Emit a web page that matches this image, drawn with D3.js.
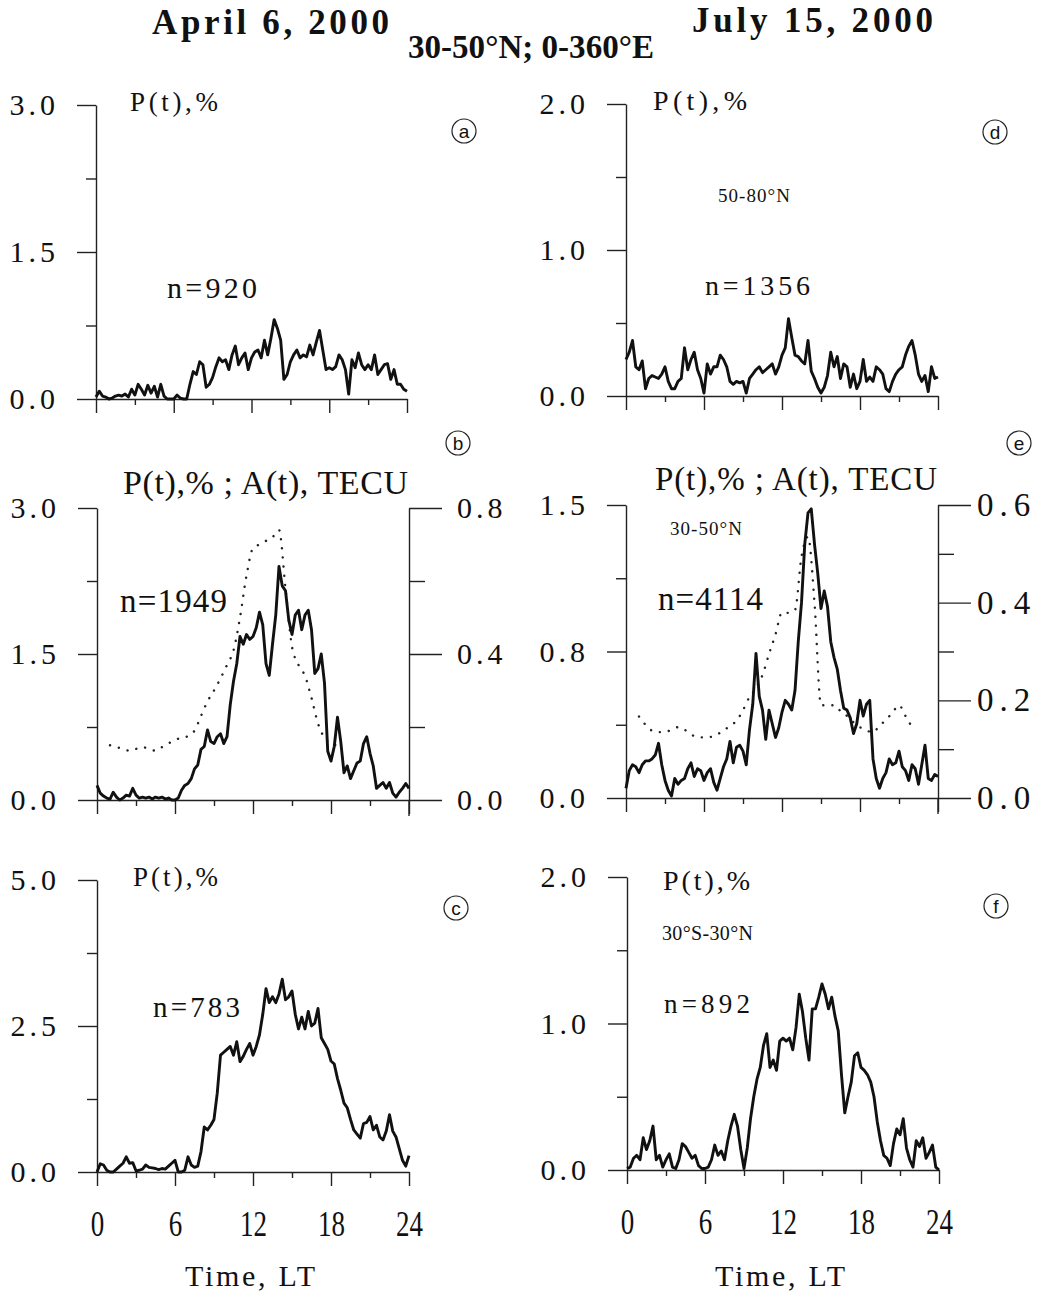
<!DOCTYPE html>
<html lang="en">
<head>
<meta charset="utf-8">
<title>P(t) and A(t), Time LT</title>
<script src="https://cdn.jsdelivr.net/npm/d3@7"></script>
<style>
  body { margin: 0; background: #fff; }
  svg text { font-family: "Liberation Serif", "Times New Roman", serif; fill: #111; }
  svg text.badge { font-family: "Liberation Sans", Arial, sans-serif; }
</style>
</head>
<body>
<div id="chart"></div>
<script>
// local time of each P(t) sample (every 15 min, 0..24 LT)
const timeLT = d3.range(0, 24.001, 0.25);

// P(t), % -- April 6, 2000
const pA = [0.02,0.08,0.03,0.02,0.00,0.01,0.03,0.04,0.03,0.05,0.02,0.10,
            0.04,0.15,0.10,0.04,0.14,0.06,0.13,0.02,0.15,0.03,0.00,0.00,
            0.00,0.04,0.01,0.00,0.00,0.15,0.28,0.25,0.38,0.35,0.12,0.15,
            0.22,0.33,0.42,0.38,0.40,0.30,0.45,0.54,0.35,0.42,0.47,0.30,
            0.42,0.48,0.50,0.42,0.60,0.45,0.62,0.81,0.72,0.60,0.20,0.25,
            0.38,0.45,0.50,0.42,0.45,0.43,0.55,0.45,0.58,0.70,0.50,0.30,
            0.32,0.30,0.33,0.45,0.40,0.30,0.05,0.40,0.32,0.47,0.35,0.30,
            0.35,0.30,0.45,0.25,0.30,0.35,0.36,0.20,0.30,0.15,0.15,0.10,0.08];
const pB = [0.15,0.07,0.04,0.02,0.01,0.08,0.03,0.00,0.02,0.05,0.04,0.12,
            0.05,0.02,0.03,0.02,0.03,0.01,0.03,0.02,0.03,0.01,0.02,0.00,
            0.00,0.02,0.10,0.15,0.17,0.22,0.32,0.36,0.52,0.55,0.72,0.60,
            0.58,0.65,0.68,0.58,0.65,0.98,1.22,1.40,1.68,1.60,1.70,1.65,
            1.68,1.77,1.93,1.80,1.40,1.28,1.60,1.90,2.40,2.20,2.15,1.85,
            1.70,1.90,1.95,1.75,1.90,1.95,1.75,1.30,1.35,1.50,1.20,0.50,
            0.40,0.55,0.85,0.60,0.28,0.35,0.22,0.30,0.38,0.40,0.58,0.65,
            0.48,0.35,0.12,0.15,0.18,0.12,0.18,0.07,0.03,0.08,0.12,0.17,0.12];
const pC = [0.00,0.14,0.12,0.03,0.00,0.00,0.05,0.10,0.15,0.26,0.15,0.16,
            0.02,0.03,0.05,0.12,0.08,0.07,0.06,0.04,0.06,0.05,0.10,0.15,
            0.20,0.00,0.00,0.03,0.26,0.12,0.08,0.10,0.35,0.77,0.72,0.80,
            0.90,1.35,2.00,2.05,2.10,2.15,2.00,2.23,1.89,1.98,2.10,2.20,
            2.00,2.15,2.35,2.70,3.14,2.90,3.00,2.90,3.05,3.30,2.95,3.00,
            3.10,2.70,2.45,2.65,2.45,2.75,2.50,2.55,2.80,2.30,2.20,2.10,
            1.90,1.85,1.60,1.40,1.18,1.10,0.90,0.72,0.65,0.58,0.83,0.85,
            0.95,0.72,0.80,0.60,0.55,0.70,0.98,0.70,0.60,0.40,0.20,0.10,0.28];

// P(t), % -- July 15, 2000
const pD = [0.25,0.30,0.38,0.20,0.18,0.24,0.05,0.12,0.14,0.13,0.12,0.15,
            0.20,0.10,0.05,0.05,0.10,0.12,0.33,0.18,0.25,0.30,0.18,0.12,
            0.02,0.22,0.15,0.20,0.20,0.28,0.25,0.20,0.10,0.08,0.10,0.09,
            0.10,0.02,0.12,0.15,0.18,0.20,0.16,0.18,0.20,0.22,0.15,0.20,
            0.28,0.33,0.53,0.40,0.28,0.27,0.24,0.22,0.38,0.17,0.12,0.06,
            0.02,0.06,0.14,0.30,0.20,0.27,0.12,0.22,0.20,0.06,0.15,0.05,
            0.10,0.25,0.10,0.13,0.10,0.20,0.18,0.15,0.05,0.03,0.10,0.15,
            0.18,0.20,0.28,0.34,0.38,0.28,0.15,0.10,0.14,0.03,0.20,0.12,0.13];
const pE = [0.05,0.14,0.17,0.16,0.13,0.17,0.19,0.19,0.20,0.22,0.28,0.17,
            0.09,0.04,0.01,0.10,0.07,0.09,0.10,0.15,0.18,0.11,0.15,0.14,
            0.09,0.13,0.15,0.08,0.04,0.10,0.16,0.20,0.29,0.18,0.26,0.27,
            0.24,0.17,0.35,0.48,0.74,0.52,0.45,0.30,0.45,0.38,0.31,0.36,
            0.44,0.50,0.48,0.45,0.55,0.80,1.00,1.30,1.46,1.48,1.30,1.15,
            0.97,1.06,0.98,0.80,0.72,0.66,0.55,0.46,0.45,0.41,0.33,0.38,
            0.50,0.42,0.48,0.50,0.20,0.10,0.05,0.10,0.13,0.20,0.17,0.18,
            0.24,0.16,0.14,0.09,0.17,0.15,0.07,0.17,0.27,0.10,0.09,0.12,0.11];
const pF = [0.01,0.02,0.08,0.10,0.07,0.22,0.14,0.20,0.30,0.07,0.10,0.02,
            0.07,0.11,0.02,0.01,0.07,0.18,0.16,0.12,0.08,0.10,0.03,0.01,
            0.01,0.02,0.07,0.17,0.10,0.13,0.07,0.20,0.30,0.38,0.30,0.14,
            0.01,0.15,0.35,0.50,0.62,0.70,0.85,0.93,0.70,0.75,0.68,0.88,
            0.90,0.88,0.90,0.82,0.97,1.20,1.08,0.90,0.75,1.10,1.10,1.18,
            1.27,1.20,1.10,1.18,1.05,0.95,0.65,0.39,0.50,0.60,0.78,0.80,
            0.70,0.68,0.65,0.60,0.50,0.33,0.20,0.10,0.08,0.03,0.18,0.28,
            0.24,0.35,0.15,0.07,0.02,0.20,0.16,0.22,0.08,0.12,0.17,0.02,0.00];

// A(t), TECU (dotted curves), sampled every 30 min
const aTimeB = d3.range(1, 19.001, 0.5);
const aB = [0.150,0.145,0.140,0.135,0.140,0.145,0.140,0.135,0.145,0.155,
            0.165,0.170,0.175,0.190,0.230,0.270,0.300,0.333,0.370,0.410,
            0.500,0.615,0.690,0.700,0.710,0.720,0.740,0.580,0.420,0.370,
            0.340,0.280,0.210,0.170,0.155,0.150,0.150];
const aTimeE = d3.range(1, 22.001, 0.5);
const aE = [0.167,0.150,0.138,0.135,0.135,0.140,0.145,0.140,0.130,0.125,
            0.124,0.125,0.130,0.138,0.148,0.158,0.180,0.207,0.225,0.252,
            0.295,0.335,0.380,0.379,0.385,0.494,0.535,0.400,0.190,0.190,
            0.190,0.178,0.168,0.155,0.145,0.138,0.135,0.148,0.160,0.175,
            0.190,0.168,0.145];

const sampleCounts = { a: 920, b: 1949, c: 783, d: 1356, e: 4114, f: 892 };
const hourMajor = [0, 6, 12, 18, 24];
const hourMinor = [3, 9, 15, 21];

const width = 1039, height = 1298;
const svg = d3.select("#chart").append("svg")
    .attr("width", width)
    .attr("height", height);

// one entry per panel: where it goes and how its axes look
const panels = [
  { key: "a", series: pA, x0: 96, x1: 407, top: 105, zero: 399, max: 3,
    yMajor: [0, 1.5, 3], yLabels: ["0.0", "1.5", "3.0"], yMinor: [0.75, 2.25],
    head: ["P(t),%", 130, 111, 27, 88], nLab: [167, 298, 30, 90], badge: [464, 131] },
  { key: "b", series: pB, x0: 97, x1: 409, top: 508, zero: 800, max: 3,
    yMajor: [0, 1.5, 3], yLabels: ["0.0", "1.5", "3.0"], yMinor: [0.75, 2.25],
    head: ["P(t),% ; A(t), TECU", 123, 494, 34, 285], nLab: [120, 612, 33, 107], badge: [458, 443],
    right: { max: 0.8, major: [0, 0.4, 0.8], labels: ["0.0", "0.4", "0.8"], minor: [0.2, 0.6],
             pad: 15, size: 30, ls: 4, t: aTimeB, v: aB } },
  { key: "c", series: pC, x0: 97, x1: 409, top: 880, zero: 1172, max: 5,
    yMajor: [0, 2.5, 5], yLabels: ["0.0", "2.5", "5.0"], yMinor: [1.25, 3.75],
    head: ["P(t),%", 133, 886, 27, 85], nLab: [153, 1017, 29, 87], badge: [456, 908], bottom: true },
  { key: "d", series: pD, x0: 626, x1: 938, top: 104, zero: 396, max: 2,
    yMajor: [0, 1, 2], yLabels: ["0.0", "1.0", "2.0"], yMinor: [0.5, 1.5],
    head: ["P(t),%", 653, 110, 28, 94], nLab: [705, 295, 28, 105], badge: [995, 132],
    region: ["50-80°N", 718, 202, 19, 72] },
  { key: "e", series: pE, x0: 626, x1: 938, top: 505, zero: 798, max: 1.5,
    yMajor: [0, 0.75, 1.5], yLabels: ["0.0", "0.8", "1.5"], yMinor: [0.375, 1.125],
    head: ["P(t),% ; A(t), TECU", 655, 490, 33, 282], nLab: [658, 610, 33, 105], badge: [1019, 443],
    region: ["30-50°N", 670, 535, 19, 72],
    right: { max: 0.6, major: [0, 0.2, 0.4, 0.6], labels: ["0.0", "0.2", "0.4", "0.6"], minor: [0.1, 0.3, 0.5],
             pad: 6, size: 33, ls: 6, t: aTimeE, v: aE } },
  { key: "f", series: pF, x0: 627, x1: 939, top: 877, zero: 1170, max: 2,
    yMajor: [0, 1, 2], yLabels: ["0.0", "1.0", "2.0"], yMinor: [0.5, 1.5],
    head: ["P(t),%", 663, 890, 28, 87], nLab: [664, 1013, 27, 86], badge: [996, 906],
    region: ["30°S-30°N", 662, 940, 20, 91], bottom: true }
];

function styleAxis(sel) {
    sel.attr("font-family", null).attr("font-size", null);
    sel.selectAll(".domain, .tick line").attr("stroke", "#222").attr("stroke-width", 1.4);
}

function spacedText(x, y, txt, size, len, anchor) {
    return svg.append("text")
        .attr("x", x).attr("y", y)
        .attr("text-anchor", anchor || "start")
        .attr("textLength", len)
        .attr("lengthAdjust", "spacing")
        .style("font-size", size + "px")
        .text(txt);
}

panels.forEach(p => {
    const x = d3.scaleLinear().domain([0, 24]).range([p.x0, p.x1]);
    const y = d3.scaleLinear().domain([0, p.max]).range([p.zero, p.top]);
    const g = svg.append("g").attr("id", "panel-" + p.key);

    // left axis
    g.append("g").attr("transform", `translate(${p.x0},0)`)
        .call(d3.axisLeft(y).tickValues(p.yMajor).tickSize(19).tickSizeOuter(0)
            .tickPadding(18).tickFormat((d, i) => p.yLabels[i]))
        .call(styleAxis)
        .selectAll("text").style("font-size", "30px").style("letter-spacing", "4px");
    g.append("g").attr("transform", `translate(${p.x0},0)`)
        .call(d3.axisLeft(y).tickValues(p.yMinor).tickSize(10).tickFormat(""))
        .call(a => a.select(".domain").remove())
        .call(styleAxis);

    // time axis
    g.append("g").attr("transform", `translate(0,${p.zero})`)
        .call(d3.axisBottom(x).tickValues(hourMajor).tickSize(14).tickSizeOuter(0)
            .tickPadding(24).tickFormat(p.bottom ? (d => d) : ""))
        .call(styleAxis)
        .selectAll("text").style("font-size", "36px").attr("transform", "scale(0.75,1)");
    g.append("g").attr("transform", `translate(0,${p.zero})`)
        .call(d3.axisBottom(x).tickValues(hourMinor).tickSize(6).tickFormat(""))
        .call(a => a.select(".domain").remove())
        .call(styleAxis);

    // right axis + dotted A(t)
    if (p.right) {
        const r = p.right;
        const yr = d3.scaleLinear().domain([0, r.max]).range([p.zero, p.top]);
        g.append("g").attr("transform", `translate(${p.x1},0)`)
            .call(d3.axisRight(yr).tickValues(r.major).tickSize(33).tickSizeOuter(0)
                .tickPadding(r.pad).tickFormat((d, i) => r.labels[i]))
            .call(styleAxis)
            .selectAll("text").style("font-size", r.size + "px").style("letter-spacing", r.ls + "px");
        g.append("g").attr("transform", `translate(${p.x1},0)`)
            .call(d3.axisRight(yr).tickValues(r.minor).tickSize(16).tickFormat(""))
            .call(a => a.select(".domain").remove())
            .call(styleAxis);
        // extend right axis a little below the time axis
        g.append("line")
            .attr("x1", p.x1).attr("x2", p.x1)
            .attr("y1", p.zero).attr("y2", p.zero + 16)
            .attr("stroke", "#222").attr("stroke-width", 1.4);

        g.append("path")
            .datum(r.t.map((t, i) => [t, r.v[i]]))
            .attr("fill", "none")
            .attr("stroke", "#222")
            .attr("stroke-width", 2.4)
            .attr("stroke-linecap", "round")
            .attr("stroke-dasharray", "0.1,9")
            .attr("d", d3.line().x(d => x(d[0])).y(d => yr(d[1])).curve(d3.curveMonotoneX));
    }

    // P(t) trace
    g.append("path")
        .datum(timeLT.map((t, i) => [t, p.series[i]]))
        .attr("fill", "none")
        .attr("stroke", "#111")
        .attr("stroke-width", 2.9)
        .attr("stroke-linejoin", "round")
        .attr("d", d3.line().x(d => x(d[0])).y(d => y(d[1])));

    // labels inside the panel
    spacedText(p.head[1], p.head[2], p.head[0], p.head[3], p.head[4]);
    spacedText(p.nLab[0], p.nLab[1], "n=" + sampleCounts[p.key], p.nLab[2], p.nLab[3]);
    if (p.region) spacedText(p.region[1], p.region[2], p.region[0], p.region[3], p.region[4]);

    // circled panel letter
    svg.append("circle")
        .attr("cx", p.badge[0]).attr("cy", p.badge[1]).attr("r", 12)
        .attr("fill", "none").attr("stroke", "#222").attr("stroke-width", 1.2);
    svg.append("text").attr("class", "badge")
        .attr("x", p.badge[0]).attr("y", p.badge[1]).attr("dy", "0.36em")
        .attr("text-anchor", "middle")
        .style("font-size", "19px")
        .text(p.key);

    if (p.bottom) {
        spacedText((p.x0 + p.x1) / 2 - 3, 1286, "Time, LT", 30, 130, "middle");
    }
});

// column titles
svg.append("text").attr("x", 152).attr("y", 34)
    .attr("textLength", 237).attr("lengthAdjust", "spacing")
    .style("font-size", "35px").style("font-weight", "bold")
    .text("April 6, 2000");
svg.append("text").attr("x", 692).attr("y", 32)
    .attr("textLength", 241).attr("lengthAdjust", "spacing")
    .style("font-size", "35px").style("font-weight", "bold")
    .text("July 15, 2000");
svg.append("text").attr("x", 408).attr("y", 58)
    .attr("textLength", 246).attr("lengthAdjust", "spacingAndGlyphs")
    .style("font-size", "33px").style("font-weight", "bold")
    .text("30-50°N; 0-360°E");
</script>
</body>
</html>
